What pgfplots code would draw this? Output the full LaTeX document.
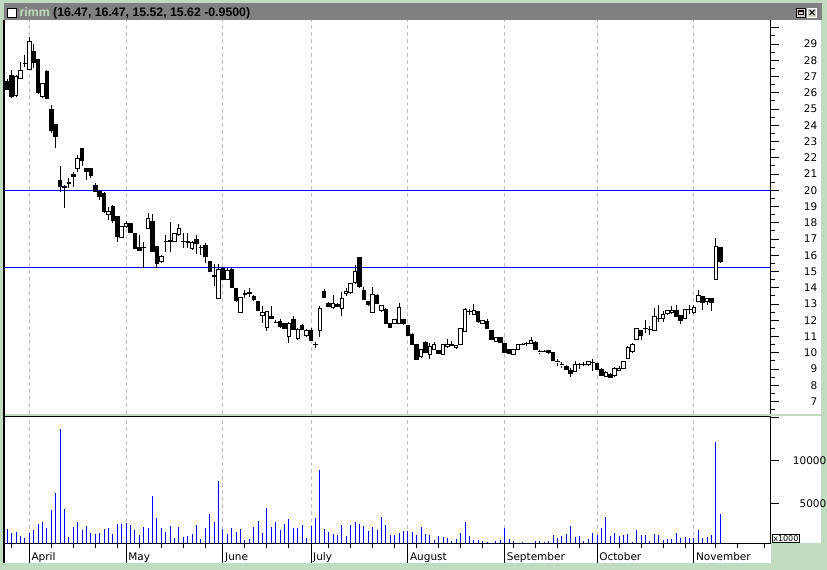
\documentclass[border=0pt]{standalone}
\usepackage{pgfplots}
\pgfplotsset{compat=1.18}
\usepackage{pgfplotstable}
\usepackage{fontspec}
\setmainfont{DejaVu Sans}
\newfontfamily\titlefont{Liberation Sans}
\definecolor{frame}{RGB}{192,220,192}
\definecolor{titlegrey}{RGB}{128,128,128}
\definecolor{gridgrey}{RGB}{192,192,192}
\definecolor{btngrey}{RGB}{212,208,200}

\pgfplotstableread{
i O H L C
0 26.72 26.85 26.15 26.23
1 27.09 27.40 25.70 25.76
2 25.82 27.10 25.75 26.99
3 26.89 27.91 26.83 27.40
4 27.80 28.32 27.60 27.81
5 27.46 29.45 27.40 29.18
6 28.53 29.00 27.50 27.87
7 28.02 28.05 25.95 26.00
8 25.76 26.60 25.70 26.54
9 27.30 27.40 25.60 25.66
10 25.00 25.25 23.50 23.67
11 24.02 24.10 22.58 23.30
12 20.57 21.49 19.91 20.22
13 20.20 20.32 18.93 20.25
14 20.43 20.74 20.12 20.45
15 21.00 21.14 20.18 20.83
16 21.35 22.17 21.14 21.97
17 22.54 22.54 21.51 21.82
18 21.35 21.35 20.63 21.14
19 21.35 21.40 20.75 20.88
20 20.32 20.43 19.91 19.95
21 19.95 20.02 19.40 19.60
22 19.81 19.90 18.60 18.68
23 18.52 18.99 18.17 18.68
24 19.03 19.10 18.00 18.13
25 18.37 18.40 16.84 17.14
26 17.10 17.80 17.05 17.76
27 17.76 18.10 17.70 17.96
28 17.96 18.00 17.35 17.39
29 17.35 17.40 16.40 16.43
30 16.49 17.25 16.30 16.32
31 16.50 16.84 15.19 16.48
32 17.66 18.58 17.60 18.27
33 18.07 18.54 16.20 16.22
34 16.51 16.55 15.19 15.50
35 15.60 16.00 15.55 15.95
36 16.82 17.25 16.20 16.86
37 16.84 18.07 16.22 16.90
38 16.84 17.35 16.80 17.31
39 17.25 17.92 17.20 17.66
40 16.86 17.35 16.43 16.82
41 16.80 17.35 16.43 16.84
42 16.43 16.85 16.35 16.77
43 16.98 17.25 16.08 16.70
44 16.50 16.63 16.02 16.45
45 16.57 16.73 15.50 15.91
46 15.60 15.65 14.95 14.99
47 14.75 15.46 14.11 14.70
48 13.35 15.46 13.30 15.13
49 15.19 15.25 14.45 14.52
50 14.48 15.19 14.45 15.05
51 15.13 15.19 13.96 14.02
52 13.96 14.00 13.10 13.21
53 12.49 13.45 12.45 13.41
54 13.60 13.86 13.40 13.62
55 13.66 13.96 13.45 13.68
56 13.45 13.55 13.18 13.25
57 13.18 13.20 12.55 12.59
58 12.28 12.88 11.85 12.49
59 11.54 12.57 11.36 12.55
60 12.26 12.88 12.05 12.10
61 11.87 12.02 11.81 11.85
62 11.95 12.05 11.55 11.60
63 11.77 11.85 11.45 11.50
64 10.99 11.90 10.62 11.77
65 12.02 12.26 11.40 11.44
66 10.85 11.50 10.80 11.46
67 11.67 11.77 11.40 11.44
68 11.05 11.45 11.00 11.40
69 11.40 11.54 10.75 10.78
70 10.52 10.68 10.27 10.50
71 11.36 12.88 10.99 12.73
72 13.76 13.90 13.38 13.41
73 13.04 13.10 12.80 12.84
74 12.77 13.55 12.70 13.04
75 13.00 13.05 12.80 12.84
76 12.73 13.76 12.26 13.35
77 13.62 13.96 13.50 13.80
78 13.72 14.30 13.60 14.27
79 14.31 15.40 14.25 14.97
80 15.85 15.92 14.00 14.07
81 13.86 14.02 13.25 13.29
82 13.18 13.20 12.90 12.94
83 12.49 14.02 12.45 13.60
84 13.55 13.60 13.00 13.04
85 12.57 12.95 12.50 12.88
86 12.69 12.75 11.77 11.81
87 11.77 11.80 11.50 11.54
88 11.77 12.05 11.75 12.02
89 11.77 13.04 11.75 12.80
90 12.02 12.10 11.70 11.77
91 11.67 11.70 11.05 11.09
92 11.14 11.20 10.50 10.52
93 10.48 10.50 9.55 9.59
94 9.76 10.20 9.70 10.17
95 10.62 10.72 9.98 10.01
96 9.90 10.62 9.59 10.37
97 10.21 10.65 10.15 10.48
98 10.11 10.15 9.90 9.96
99 9.90 10.55 9.85 10.48
100 10.37 10.83 10.30 10.48
101 10.52 10.72 10.40 10.42
102 10.31 10.50 10.25 10.44
103 10.52 11.55 10.50 11.50
104 11.30 12.75 11.25 12.67
105 12.53 12.70 12.30 12.55
106 12.36 12.98 12.30 12.59
107 12.53 12.60 11.85 11.91
108 11.81 12.00 11.75 11.97
109 11.95 12.05 11.45 11.50
110 11.34 11.40 10.80 10.83
111 10.72 11.00 10.65 10.94
112 10.95 11.00 10.60 10.62
113 10.54 10.60 9.98 10.01
114 10.21 10.25 9.92 9.96
115 9.92 10.25 9.85 10.21
116 10.21 10.50 10.15 10.48
117 10.52 10.60 10.45 10.53
118 10.58 10.65 10.40 10.60
119 10.58 10.98 10.55 10.78
120 10.62 10.70 10.18 10.21
121 10.05 10.15 9.95 10.06
122 10.05 10.15 9.98 10.06
123 10.11 10.15 9.95 10.01
124 10.01 10.05 9.48 9.51
125 9.45 9.59 9.18 9.46
126 9.25 9.45 9.04 9.26
127 9.18 9.22 8.95 8.98
128 8.88 9.04 8.53 8.73
129 8.84 9.51 8.80 9.25
130 9.29 9.35 8.98 9.30
131 9.29 9.45 9.20 9.30
132 9.25 9.50 9.20 9.45
133 9.41 9.59 8.90 9.42
134 9.31 9.40 8.95 8.98
135 8.98 9.04 8.60 8.63
136 8.53 8.85 8.48 8.77
137 8.69 8.75 8.45 8.49
138 8.57 9.10 8.50 9.04
139 8.90 9.20 8.85 9.04
140 9.04 9.50 9.00 9.45
141 9.66 10.40 9.60 10.33
142 10.07 10.60 10.00 10.48
143 10.83 11.55 10.80 11.50
144 11.36 11.40 10.80 11.09
145 11.48 12.02 11.20 11.50
146 11.45 11.65 11.10 11.46
147 11.40 12.73 11.35 12.22
148 12.12 12.94 11.90 12.10
149 12.12 12.60 11.90 12.37
150 12.43 12.65 12.30 12.57
151 12.45 12.90 12.40 12.60
152 12.59 12.94 12.20 12.22
153 12.30 12.35 11.80 12.00
154 12.12 12.70 12.05 12.67
155 12.66 12.94 12.40 12.68
156 12.47 12.94 12.40 12.80
157 13.15 13.86 13.10 13.52
158 13.45 13.50 12.63 13.08
159 13.14 13.40 12.95 13.35
160 13.35 13.40 12.54 13.08
161 14.52 17.04 14.50 16.53
162 16.47 16.47 15.52 15.62
}\candles

\pgfplotstableread{
i V
0 2020
1 1590
2 1670
3 1240
4 1000
5 1590
6 1940
7 2600
8 2840
9 2170
10 4240
11 6260
12 13700
13 4390
14 1090
15 2250
16 2840
17 1940
18 2370
19 1550
20 1440
21 1550
22 2020
23 2140
24 1440
25 2600
26 2600
27 2720
28 2490
29 1900
30 1320
31 2250
32 2140
33 5880
34 3300
35 2140
36 1670
37 2370
38 970
39 2250
40 1090
41 1200
42 1440
43 2490
44 850
45 2140
46 3770
47 2840
48 7630
49 2020
50 1440
51 2140
52 1670
53 2020
54 740
55 850
56 2250
57 2960
58 1550
59 4470
60 2250
61 2840
62 1900
63 2600
64 3190
65 2140
66 2140
67 2490
68 970
69 2370
70 3300
71 8910
72 2020
73 1670
74 1440
75 1320
76 2490
77 1200
78 2490
79 2840
80 2600
81 2370
82 1790
83 2250
84 1900
85 3420
86 2490
87 1320
88 1320
89 1550
90 1790
91 1790
92 1670
93 1320
94 2250
95 1440
96 1320
97 740
98 1200
99 1090
100 970
101 620
102 850
103 1550
104 2840
105 1200
106 740
107 740
108 620
109 500
110 300
111 620
112 740
113 2140
114 850
115 620
116 300
117 500
118 300
119 300
120 620
121 620
122 500
123 620
124 1320
125 970
126 1200
127 1440
128 2370
129 1090
130 1200
131 620
132 850
133 1550
134 1320
135 2140
136 3420
137 1200
138 1550
139 1200
140 1320
141 1440
142 500
143 1900
144 1320
145 1320
146 620
147 1440
148 1320
149 740
150 850
151 850
152 1550
153 970
154 1090
155 970
156 970
157 1900
158 970
159 1090
160 1320
161 12180
162 3770
}\volume

\pgfplotsset{
  wick/.style={black, line width=1bp, mark=none},
  whitebody/.style={draw=black, fill=white, line width=1bp, mark=none},
  blackbody/.style={draw=black, fill=black, line width=1bp, mark=none},
}

\begin{document}
\begin{tikzpicture}
\useasboundingbox (0,0) rectangle (827bp,-570bp);
\begin{scope}[x=1bp,y=1bp]
\fill[frame] (0,0) rectangle (827,-570);
% title bar
\fill[titlegrey] (4,-3.5) rectangle (822,-19.5);
\filldraw[fill=white, draw=black, line width=1bp] (7.5,-8) rectangle (16.5,-17);
\node[anchor=base west, inner sep=0pt] at (19.5,-16.3)
  {\titlefont\bfseries\fontsize{12.3bp}{14bp}\selectfont\textcolor{frame}{rimm} (16.47, 16.47, 15.52, 15.62 -0.9500)};
% buttons
\filldraw[fill=btngrey, draw=black, line width=1bp] (796.5,-8) rectangle (805.5,-17);
\draw[black, line width=1bp] (798.8,-10.5) rectangle (803.2,-14.5);
\draw[black, line width=1.5bp] (798.8,-11) -- (803.2,-11);
\filldraw[fill=btngrey, draw=white, line width=1bp] (807.5,-8) rectangle (816.5,-17);
\draw[black, line width=0.9bp] (809.5,-10) -- (814.5,-15) (814.5,-10) -- (809.5,-15);
% white panels
\fill[white] (4,-19.5) rectangle (821,-413.5);
\fill[white] (4,-416) rectangle (821,-543);
\fill[white] (4,-543) rectangle (770.5,-563);
% borders
\draw[black, line width=1.3bp] (4,-19.5) -- (4,-563);
\draw[black, line width=1bp] (4,-416.7) -- (770.5,-416.7);
% x1000 box
\node[draw=black, fill=white, line width=1bp, inner sep=0.8bp, anchor=south west,
      font=\fontsize{8bp}{9bp}\selectfont] at (772,-542.5) {x1000};
\end{scope}

% ---------------- price panel ----------------
\begin{axis}[
  at={(4.5bp,-20bp)}, anchor=north west,
  scale only axis, width=766bp, height=393.5bp,
  xmin=-0.643, xmax=173.41, ymin=6.262, ymax=30.477,
  axis x line*=bottom, axis y line*=right,
  x axis line style={draw=none},
  y axis line style={black, line width=1bp},
  xtick={5,27,49,69,91,113,134,156}, xticklabels={},
  xtick style={draw=none},
  xmajorgrids,
  major grid style={gridgrey, dash pattern=on 4bp off 3bp, line width=1bp},
  ytick={7,8,9,10,11,12,13,14,15,16,17,18,19,20,21,22,23,24,25,26,27,28,29},
  yticklabels={7,8,9,10,11,12,13,14,15,16,17,18,19,20,21,22,23,24,25,26,27,28,29},
  extra y ticks={30}, extra y tick labels={},
  minor ytick={6.5,7.5,8.5,9.5,10.5,11.5,12.5,13.5,14.5,15.5,16.5,17.5,18.5,19.5,20.5,21.5,22.5,23.5,24.5,25.5,26.5,27.5,28.5,29.5,30.5},
  tick align=outside,
  major tick length=8bp, minor tick length=4bp,
  ytick style={black, line width=1bp},
  yticklabel style={anchor=east, inner sep=0pt, xshift=39bp,
     font=\fontsize{10.5bp}{12bp}\selectfont},
  clip=true,
]
\addplot[blue, line width=1bp, mark=none] coordinates {(-0.643,20) (173.41,20)};
\addplot[blue, line width=1bp, mark=none] coordinates {(-0.643,15.25) (173.41,15.25)};
\pgfplotsinvokeforeach{0,...,162}{
  \pgfplotstablegetelem{#1}{O}\of\candles \let\cO\pgfplotsretval
  \pgfplotstablegetelem{#1}{H}\of\candles \let\cH\pgfplotsretval
  \pgfplotstablegetelem{#1}{L}\of\candles \let\cL\pgfplotsretval
  \pgfplotstablegetelem{#1}{C}\of\candles \let\cC\pgfplotsretval
  \pgfmathsetmacro\xl{#1-0.4}
  \pgfmathsetmacro\xr{#1+0.4}
  \pgfmathtruncatemacro\candleup{\cC<\cO ? 0 : 1}
  \addplot[wick] coordinates {(#1,\cL) (#1,\cH)};
  \ifnum\candleup=1
    \addplot[whitebody] coordinates {(\xl,\cO) (\xr,\cO) (\xr,\cC) (\xl,\cC)} --cycle;
  \else
    \addplot[blackbody] coordinates {(\xl,\cO) (\xr,\cO) (\xr,\cC) (\xl,\cC)} --cycle;
  \fi
}
\end{axis}

% ---------------- volume panel ----------------
\begin{axis}[
  at={(4.5bp,-417bp)}, anchor=north west,
  scale only axis, width=766bp, height=126bp,
  xmin=-0.643, xmax=173.41, ymin=385, ymax=15102,
  axis x line*=bottom, axis y line*=right,
  axis line style={black, line width=1bp},
  xtick={1,10,15,20,25,30,35,40,45,54,59,64,73,78,83,88,93,98,103,108,115,120,125,130,139,144,149,154,161,166,172},
  xticklabels={},
  extra x ticks={5,27,49,69,91,113,134,156},
  extra x tick labels={April,May,June,July,August,September,October,November},
  extra x tick style={major tick length=20bp, grid=major,
     xticklabel style={anchor=base west, inner sep=0pt, xshift=2bp, yshift=3bp}},
  major grid style={gridgrey, dash pattern=on 4bp off 3bp, line width=1bp},
  scaled y ticks=false,
  ytick=\empty,
  extra y ticks={5000,10000,15000}, extra y tick labels={5000,10000,{}},
  extra y tick style={major tick length=8bp},
  minor ytick={2000,3000,4000,6000,7000,8000,9000,11000,12000,13000,14000},
  tick align=outside,
  major tick length=5bp, minor tick length=4bp,
  every tick/.style={black, line width=1bp},
  yticklabel style={anchor=east, inner sep=0pt, xshift=48bp},
  tick label style={font=\fontsize{10.5bp}{12bp}\selectfont},
  clip=true,
]
\addplot[ycomb, blue, line width=1bp, mark=none] table[x=i, y=V] {\volume};
\end{axis}
\end{tikzpicture}
\end{document}
